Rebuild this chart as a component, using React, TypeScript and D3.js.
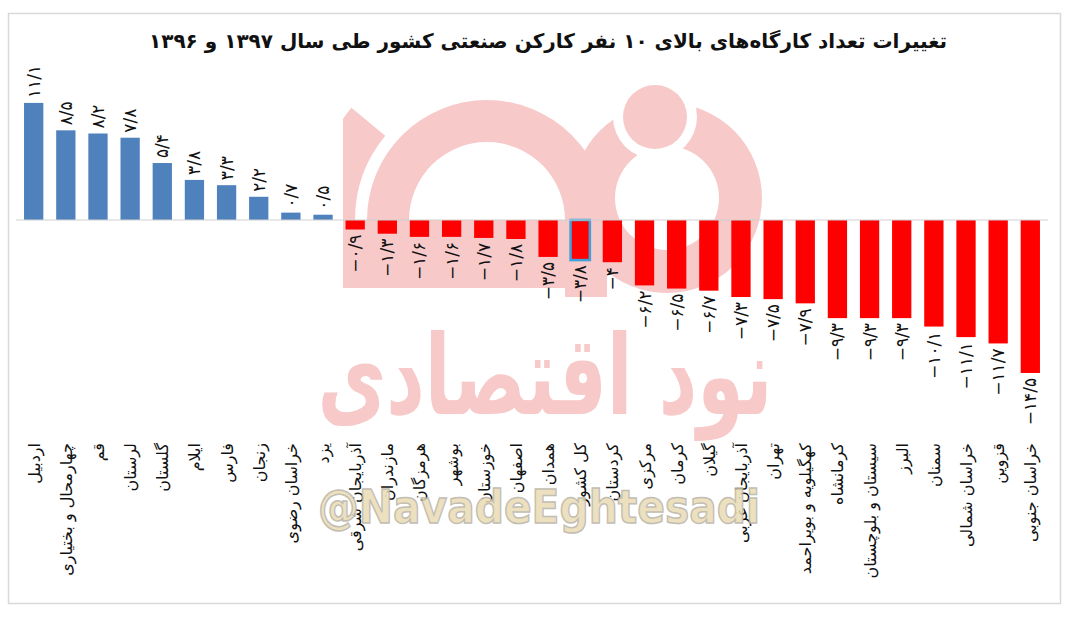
import React from 'react';
import * as d3 from 'd3';

const categories = [
  'اردبیل', 'چهارمحال و بختیاری', 'قم', 'لرستان', 'گلستان', 'ایلام', 'فارس', 'زنجان',
  'خراسان رضوی', 'یزد', 'آذربایجان شرقی', 'مازندران', 'هرمزگان', 'بوشهر', 'خوزستان',
  'اصفهان', 'همدان', 'کل کشور', 'کردستان', 'مرکزی', 'کرمان', 'گیلان', 'آذربایجان غربی',
  'تهران', 'کهگیلویه و بویراحمد', 'کرمانشاه', 'سیستان و بلوچستان', 'البرز', 'سمنان',
  'خراسان شمالی', 'قزوین', 'خراسان جنوبی',
];

const values = [
  11.1, 8.5, 8.2, 7.8, 5.4, 3.8, 3.3, 2.2, 0.7, 0.5, -0.9, -1.3, -1.6, -1.6, -1.7, -1.8,
  -3.5, -3.8, -4, -6.2, -6.5, -6.7, -7.3, -7.5, -7.9, -9.3, -9.3, -9.3, -10.1, -11.1, -11.7, -14.5,
];

const highlighted = 'کل کشور';
const title = 'تغییرات تعداد کارگاه\u200cهای بالای ۱۰ نفر کارکن صنعتی کشور طی سال ۱۳۹۷ و ۱۳۹۶';
const watermarkText = 'نود اقتصادی';
const handle = '@NavadeEghtesadi';

const W = 1080;
const H = 620;
const FONT = '"DejaVu Sans", sans-serif';
const PINK = '#f7c9c9';

const faDigits = '۰۱۲۳۴۵۶۷۸۹';
function toFa(v: number) {
  const s = Math.abs(v).toString().replace('.', '/').replace(/\d/g, (c) => faDigits[+c]);
  return v < 0 ? '\u2212' + s : s;
}

function Watermark() {
  // logo made of ring segments, centred behind the middle of the chart
  const cx = 487;
  const cy = 220;
  const arch = d3.arc()({ innerRadius: 78, outerRadius: 120, startAngle: -Math.PI / 2, endAngle: Math.PI / 2 }) || '';
  const spur = d3.arc()({ innerRadius: 132, outerRadius: 176, startAngle: -Math.PI / 2, endAngle: -0.28 * Math.PI }) || '';
  const ring = d3.arc()({ innerRadius: 52, outerRadius: 95, startAngle: 0, endAngle: 2 * Math.PI }) || '';
  return (
    <g>
      <defs>
        <clipPath id="wm-clip">
          <rect x={343} y={80} width={420} height={218} />
        </clipPath>
      </defs>
      <g clipPath="url(#wm-clip)" fill={PINK}>
        <path d={arch} transform={`translate(${cx},${cy})`} />
        <path d={spur} transform={`translate(${cx},${cy})`} />
        <rect x={343} y={cy} width={250} height={68} />
        <rect x={cx + 78} y={cy} width={42} height={77} />
        <path d={ring} transform="translate(667,198)" />
        <circle cx={655} cy={117} r={42} fill="#fff" />
        <circle cx={655} cy={117} r={32} fill={PINK} />
      </g>
      <text
        x={545}
        y={414}
        fontFamily={FONT}
        fontWeight="bold"
        fontSize={110}
        fill={PINK}
        textAnchor="middle"
        direction="rtl"
        textLength={455}
        lengthAdjust="spacingAndGlyphs"
      >
        {watermarkText}
      </text>
    </g>
  );
}

export default function App() {
  const x = d3.scaleBand<string>()
    .domain(categories)
    .range([16, 1048])
    .paddingInner(0.4)
    .paddingOuter(0.25);

  const y = d3.scaleLinear()
    .domain([-16, 12])
    .range([220 + 16 * 10.55, 220 - 12 * 10.55]);

  const data = categories.map((c, i) => ({ name: c, value: values[i] }));

  return (
    <svg width={W} height={H} style={{ position: 'absolute', left: 0, top: 0, background: '#fff' }}>
      <rect x={8.5} y={13.5} width={1052} height={590} fill="#fff" stroke="#d9d9d9" strokeWidth={1.5} />

      <Watermark />

      <text
        x={548}
        y={48}
        fontFamily={FONT}
        fontWeight="bold"
        fontSize={20}
        textAnchor="middle"
        direction="rtl"
        fill="#111"
      >
        {title}
      </text>

      {/* bars */}
      {data.map((d) => (
        <rect
          key={d.name}
          x={x(d.name)}
          y={y(Math.max(0, d.value))}
          width={x.bandwidth()}
          height={Math.abs(y(d.value) - y(0))}
          fill={d.value >= 0 ? '#4f81bd' : '#ff0000'}
          stroke={d.name === highlighted ? '#3fa0dc' : 'none'}
          strokeWidth={d.name === highlighted ? 2.5 : 0}
        />
      ))}

      {/* zero axis */}
      <line x1={x.range()[0]} x2={x.range()[1]} y1={y(0)} y2={y(0)} stroke="#d0d0d0" strokeWidth={1} />

      {/* value labels */}
      {data.map((d) => {
        const cxp = (x(d.name) || 0) + x.bandwidth() / 2;
        const yp = d.value >= 0 ? y(d.value) - 5 : y(d.value) + 5;
        return (
          <text
            key={'v' + d.name}
            transform={`translate(${cxp + 6},${yp}) rotate(-90)`}
            textAnchor={d.value >= 0 ? 'start' : 'end'}
            fontFamily={FONT}
            fontSize={17}
            letterSpacing={1}
            fill="#111"
          >
            {toFa(d.value)}
          </text>
        );
      })}

      {/* category labels */}
      {data.map((d) => {
        const cxp = (x(d.name) || 0) + x.bandwidth() / 2;
        return (
          <text
            key={'c' + d.name}
            transform={`translate(${cxp + 6},443) rotate(-90)`}
            textAnchor="end"
            fontFamily={FONT}
            fontSize={16}
            fill="#111"
          >
            {d.name}
          </text>
        );
      })}

      <text
        x={539}
        y={523}
        fontFamily={FONT}
        fontWeight="bold"
        fontSize={46}
        fill="#eadbb4"
        stroke="#b8b3a6"
        strokeWidth={1.5}
        textAnchor="middle"
        textLength={442}
        lengthAdjust="spacingAndGlyphs"
        opacity={0.85}
      >
        {handle}
      </text>
    </svg>
  );
}
